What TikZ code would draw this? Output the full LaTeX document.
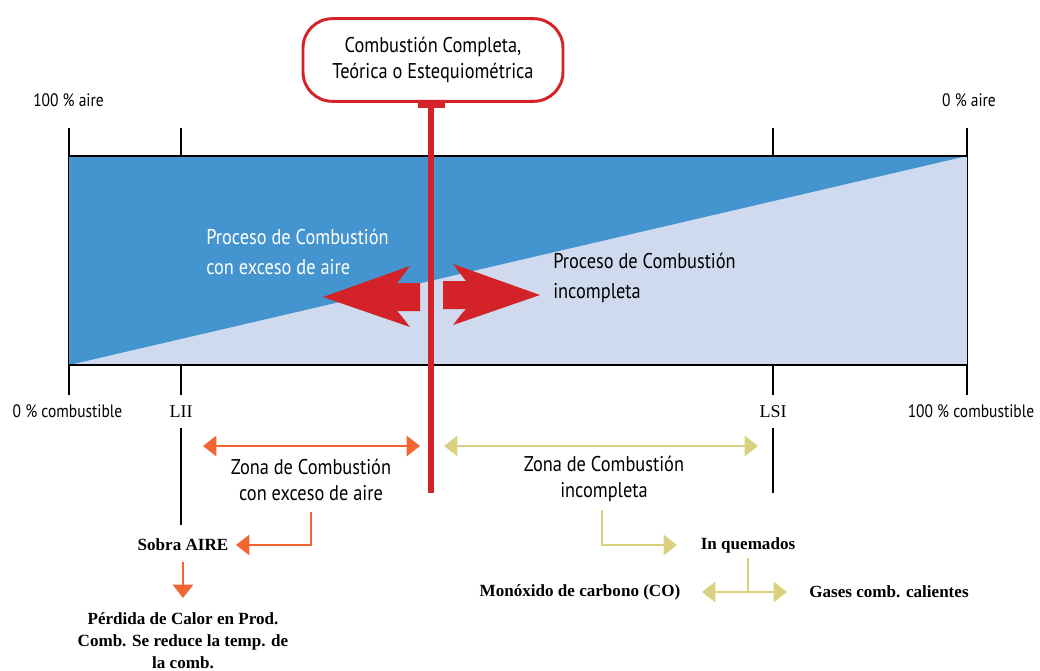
\documentclass[tikz,border=0pt]{standalone}
\usepackage{fontspec}
\setmainfont{PT Sans}[FakeStretch=0.86]
\newfontfamily\bserif{Liberation Serif}
\newfontfamily\rserif{Liberation Serif}
\usetikzlibrary{arrows.meta}
\definecolor{dblue}{HTML}{4494CF}
\definecolor{lblue}{HTML}{D0DAEE}
\definecolor{cred}{HTML}{D42229}
\definecolor{corange}{HTML}{F26532}
\definecolor{ckhaki}{HTML}{D9D17F}
\tikzset{
  lbl/.style={inner sep=0pt, font=\fontsize{13.5}{16}\selectfont},
  big/.style={inner sep=0pt, align=center, font=\fontsize{16}{19.5}\selectfont},
  bigl/.style={inner sep=0pt, align=left, font=\fontsize{16}{22.5}\selectfont},
  bold/.style={inner sep=0pt, align=center, font=\bserif\bfseries\fontsize{12.8}{16.5}\selectfont},
  lim/.style={inner sep=0pt, font=\rserif\fontsize{13.5}{16}\selectfont},
  blk/.style={line width=2.2pt, black},
  oarr/.style={line width=2.2pt, corange, -{Triangle[length=10pt,width=15pt]}},
  karr/.style={line width=2.2pt, ckhaki, -{Triangle[length=10pt,width=15pt]}},
  odbl/.style={line width=2.2pt, corange, {Triangle[length=10pt,width=15pt]}-{Triangle[length=10pt,width=15pt]}},
  kdbl/.style={line width=2.2pt, ckhaki, {Triangle[length=10pt,width=15pt]}-{Triangle[length=10pt,width=15pt]}},
}
\begin{document}
\begin{tikzpicture}[x=0.75pt,y=-0.75pt]
\useasboundingbox (0,0) rectangle (1040,671);
% ticks
\draw[blk] (69,128) -- (69,395);
\draw[blk] (967,128) -- (967,395);
\draw[blk] (181,128) -- (181,395);
\draw[blk] (773,128) -- (773,395);
% bar
\fill[lblue] (69,156) rectangle (967,365);
\fill[dblue] (69,156) -- (967,156) -- (69,365) -- cycle;
\draw[blk] (69,156) -- (967,156);
\draw[blk] (69,365) -- (967,365);
% lower lines
\draw[blk] (181,428) -- (181,525);
\draw[blk] (773,428) -- (773,493);
% texts in bar
\node[bigl, white, anchor=north west] (pexc) at (206,229) {Proceso de Combustión\\con exceso de aire};
\node[bigl, black, anchor=north west] (pinc) at (553,253) {Proceso de Combustión\\incompleta};
% big red arrows
\fill[cred] (420,283) -- (397,283) .. controls (402,277) and (406,271) .. (410,266) -- (323,297) -- (410,327) .. controls (406,322) and (402,316) .. (397,311) -- (420,311) -- cycle;
\fill[cred] (443,281) -- (466,281) .. controls (461,275) and (457,269) .. (453,264) -- (540,295) -- (453,325) .. controls (457,320) and (461,314) .. (466,309) -- (443,309) -- cycle;
% top box
\node[big, draw=cred, line width=2.2pt, rounded corners=22pt, minimum width=195pt, minimum height=62pt, fill=white] (box) at (433,60) {Combustión Completa,\\Teórica o Estequiométrica};
\coordinate (rb) at (431,493);
\draw[cred, line width=3.8pt] (box.south -| rb) -- (rb);
\fill[cred] (418,102) rectangle (445,108);
% labels
\node[lbl] (a100) at (68.5,100) {100 \% aire};
\node[lbl] (a0) at (969,100) {0 \% aire};
\node[lbl] (c0) at (67.5,411) {0 \% combustible};
\node[lbl] (c100) at (971,411) {100 \% combustible};
\node[lim] (lii) at (181,412) {LII};
\node[lim] (lsi) at (773,412) {LSI};
% zones
\coordinate (oz1) at (203,446); \coordinate (oz2) at (420,446);
\draw[odbl] (oz1) -- (oz2);
\coordinate (kz1) at (444,446); \coordinate (kz2) at (758,446);
\draw[kdbl] (kz1) -- (kz2);
\node[big] (zexc) at (311,480) {Zona de Combustión\\con exceso de aire};
\node[big] (zinc) at (604,479) {Zona de Combustión\\incompleta};
% lower consequences
\node[bold] (sobra) at (183,545) {Sobra AIRE};
\node[bold] (perd) at (183,641) {Pérdida de Calor en Prod.\\Comb. Se reduce la temp. de\\la comb.};
\node[bold] (inq) at (748,545) {In quemados};
\node[bold] (mono) at (580,592) {Monóxido de carbono (CO)};
\node[bold] (gases) at (889,592) {Gases comb. calientes};
\coordinate (oe) at (311,512);
\coordinate (sobraT) at (236,545);
\draw[oarr] (oe) |- (sobraT);
\coordinate (perdS) at (183,562);
\coordinate (perdT) at (183,598);
\draw[oarr] (perdS) -- (perdT);
\coordinate (ke) at (602,510);
\coordinate (inqT) at (677,545);
\draw[karr] (ke) |- (inqT);
\coordinate (inqS) at (748,558);
\coordinate (kj) at (748,592);
\coordinate (gasT) at (787,592);
\coordinate (monoT) at (702,592);
\draw[line width=2.2pt, ckhaki] (inqS) -- (kj);
\draw[karr] (kj) -- (gasT);
\draw[karr] (kj) -- (monoT);
\end{tikzpicture}
\end{document}
